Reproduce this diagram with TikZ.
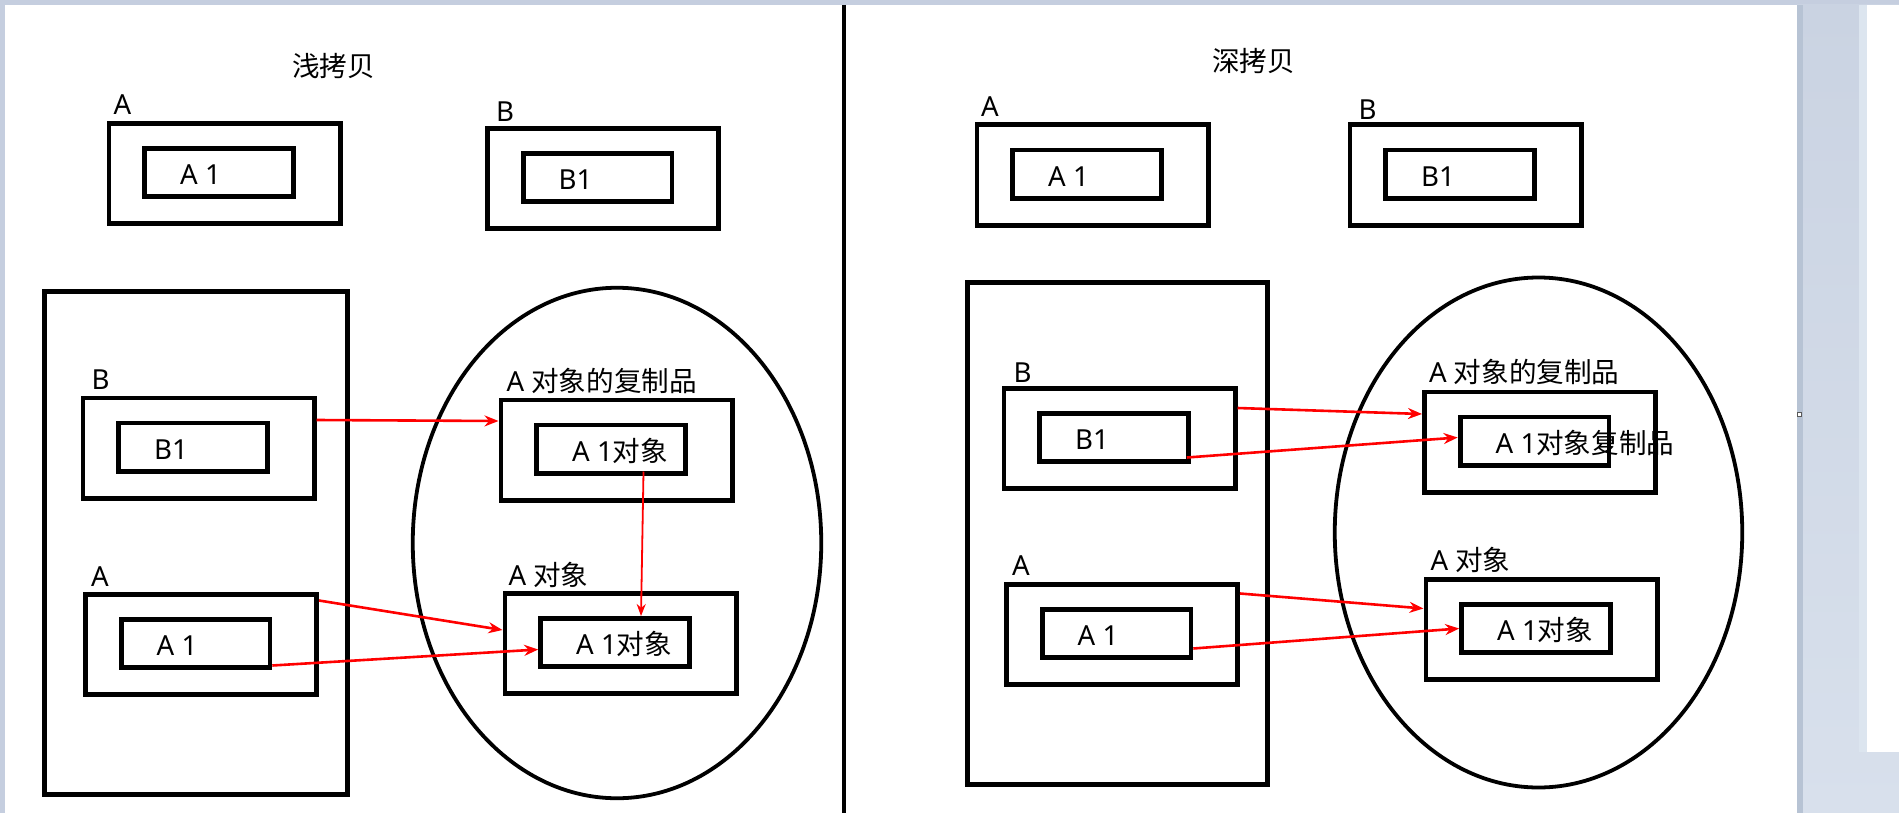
\documentclass[tikz,border=0pt]{standalone}
\usepackage{fontspec}
\setmainfont{Noto Sans}
\newfontfamily\cjk{Noto Sans CJK SC}
\usepackage{tikz}
\usetikzlibrary{positioning,shapes.geometric,arrows.meta}
\definecolor{framegray}{HTML}{C5CEDF}
\definecolor{sidegray}{HTML}{CAD3E2}
\definecolor{sidelight}{HTML}{D8E0EC}
\definecolor{sideedge}{HTML}{B7C3D4}
\definecolor{stripedge}{HTML}{DCE5EF}

\begin{document}
\begin{tikzpicture}[x=0.5pt,y=-0.5pt,>={Stealth[length=7pt,width=5.5pt]},
  box/.style={draw,line width=2.4pt,minimum width=115.6pt,minimum height=50.1pt,inner sep=0pt},
  inbox/.style={draw,line width=2.4pt,minimum width=74.4pt,minimum height=24.1pt,inner sep=0pt},
  stack/.style={draw,line width=2.4pt,inner sep=0pt},
  heap/.style={draw,ellipse,line width=1.9pt,inner sep=0pt},
  txt/.style={font=\fontsize{13.8pt}{16pt}\selectfont,inner sep=0pt,outer sep=0pt,anchor=base west},
  heading/.style={font=\cjk\fontsize{13.8pt}{16pt}\selectfont,inner sep=0pt},
  arrow/.style={->,line width=1.3pt,red}]
\useasboundingbox (0,0) rectangle (1899,813);
% window around the page
\fill[framegray] (0,0) rectangle (1899,813);
\shade[top color=sidegray,bottom color=sidelight] (1797,5) rectangle (1899,813);
\fill[sideedge] (1797,5) rectangle (1803,813);
\fill[stripedge] (1859,5) rectangle (1867,752);
\fill[white] (1867,5) rectangle (1899,752);
\fill[white] (5,5) rectangle (1797,813);
\draw[gray!70!black,fill=white,line width=0.5pt] (1797.5,412.5) rectangle (1801.5,416.5);
\draw[line width=2pt] (843.5,5) -- (843.5,813);

% shallow copy
\node[heading] (hL) at (333.5,66.5) {浅拷贝};
\node[box] (aTL) at (224.5,173.5) {};
\node[inbox] (a1TL) at ([xshift=-2.75pt,yshift=0.5pt]aTL.center) {};
\node[above right=3.5pt and 3.5pt of aTL.north west, txt] {A};
\node[below right=6pt and 19pt of a1TL.west, txt] {A 1};
\node[box] (bTL) at (603,178.5) {};
\node[inbox] (b1TL) at ([xshift=-2.75pt,yshift=0.5pt]bTL.center) {};
\node[above right=2.5pt and 5.5pt of bTL.north west, txt] {B};
\node[below right=6pt and 19pt of b1TL.west, txt] {B1};

\node[stack,minimum width=151.25pt,minimum height=251.5pt] (stackL) at (196,543) {};
\node[heap,minimum width=204.25pt,minimum height=255.25pt] (heapL) at (617,543) {};

\node[box] (bL) at (198.5,448) {};
\node[inbox] (b1L) at ([xshift=-2.75pt,yshift=0.5pt]bL.center) {};
\node[above right=3pt and 5.5pt of bL.north west, txt] {B};
\node[below right=6pt and 19pt of b1L.west, txt] {B1};
\node[box] (aL) at (201,644.5) {};
\node[inbox] (a1L) at ([xshift=-2.75pt,yshift=0.5pt]aL.center) {};
\node[above right=3pt and 4pt of aL.north west, txt] {A};
\node[below right=6pt and 19pt of a1L.west, txt] {A 1};

\node[box] (cpL) at (616.5,450) {};
\node[inbox] (a1cpL) at ([xshift=-2.75pt,yshift=0.5pt]cpL.center) {};
\node[above right=3pt and 4pt of cpL.north west, txt] {A {\cjk 对象的复制品}};
\node[below right=6pt and 19pt of a1cpL.west, txt] {A 1{\cjk 对象}};
\node[box] (obL) at (620.5,643.5) {};
\node[inbox] (a1obL) at ([xshift=-2.75pt,yshift=0.5pt]obL.center) {};
\node[above right=3pt and 3pt of obL.north west, txt] {A {\cjk 对象}};
\node[below right=6pt and 19pt of a1obL.west, txt] {A 1{\cjk 对象}};

\draw[arrow] ([yshift=14pt]bL.east) -- ([yshift=14.5pt]cpL.west);
\draw[arrow,line width=0.9pt,-{Stealth[length=6pt,width=4.5pt]}] ([xshift=16.25pt,yshift=2pt]a1cpL.south) -- ([xshift=13pt]a1obL.north);
\draw[arrow] ([yshift=22pt]aL.east) -- ([yshift=6.75pt]obL.west);
\draw[arrow] ([yshift=-11pt]a1L.east) -- ([yshift=-3.5pt]a1obL.west);

% deep copy
\node[heading] (hR) at (1253.5,60.5) {深拷贝};
\node[box] (aTR) at (1092.5,175) {};
\node[inbox] (a1TR) at ([xshift=-2.75pt,yshift=0.5pt]aTR.center) {};
\node[above right=2.75pt and 3.25pt of aTR.north west, txt] {A};
\node[below right=6pt and 19pt of a1TR.west, txt] {A 1};
\node[box] (bTR) at (1465.5,175) {};
\node[inbox] (b1TR) at ([xshift=-2.75pt,yshift=0.5pt]bTR.center) {};
\node[above right=1.5pt and 5.5pt of bTR.north west, txt] {B};
\node[below right=6pt and 19pt of b1TR.west, txt] {B1};

\node[stack,minimum width=150pt,minimum height=251.25pt] (stackR) at (1117.25,533.5) {};
\node[heap,minimum width=203.75pt,minimum height=255pt] (heapR) at (1538.5,532.5) {};

\node[box] (bR) at (1119.5,438.5) {};
\node[inbox] (b1R) at ([xshift=-2.75pt,yshift=0.5pt]bR.center) {};
\node[above right=2pt and 6pt of bR.north west, txt] {B};
\node[below right=6pt and 19pt of b1R.west, txt] {B1};
\node[box] (aR) at (1122,634.5) {};
\node[inbox] (a1R) at ([xshift=-2.75pt,yshift=0.5pt]aR.center) {};
\node[above right=3.5pt and 4pt of aR.north west, txt] {A};
\node[below right=6pt and 19pt of a1R.west, txt] {A 1};

\node[box] (cpR) at (1540,442) {};
\node[inbox] (a1cpR) at ([xshift=-2.75pt,yshift=0.5pt]cpR.center) {};
\node[above right=3.5pt and 3.5pt of cpR.north west, txt] {A {\cjk 对象的复制品}};
\node[below right=6pt and 19pt of a1cpR.west, txt] {A 1{\cjk 对象复制品}};
\node[box] (obR) at (1541.5,629.5) {};
\node[inbox] (a1obR) at ([xshift=-2.75pt,yshift=0.5pt]obR.center) {};
\node[above right=3.5pt and 3.5pt of obR.north west, txt] {A {\cjk 对象}};
\node[below right=6pt and 19pt of a1obR.west, txt] {A 1{\cjk 对象}};

\draw[arrow] ([yshift=15.25pt]bR.east) -- ([yshift=14pt]cpR.west);
\draw[arrow] ([xshift=-2pt,yshift=-10pt]b1R.east) -- ([yshift=1.75pt]a1cpR.west);
\draw[arrow] ([yshift=20.5pt]aR.east) -- ([yshift=10.5pt]obR.west);
\draw[arrow] ([yshift=-7.5pt]a1R.east) -- (a1obR.west);
\end{tikzpicture}
\end{document}
